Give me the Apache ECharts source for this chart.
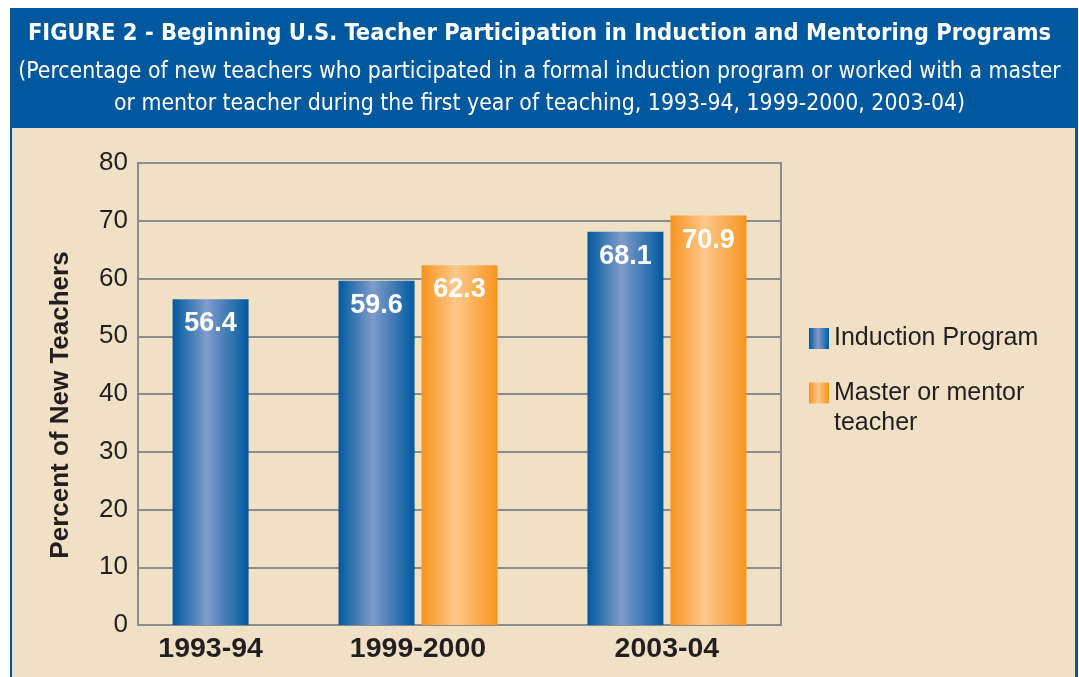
<!DOCTYPE html>
<html>
<head>
<meta charset="utf-8">
<title>Figure 2 - Beginning U.S. Teacher Participation</title>
<script src="https://cdn.jsdelivr.net/npm/echarts@6/dist/echarts.min.js"></script>
<style>
  html, body { margin: 0; background: #fff; }
  #chart { width: 1079px; height: 677px; }
</style>
</head>
<body>
<div id="chart"></div>
<script>
// data
const categories = ['1993-94', '1999-2000', '2003-04'];
const induction = [56.4, 59.6, 68.1];
const mentor = [null, 62.3, 70.9];   // no mentor figure for 1993-94
const seriesNames = ['Induction Program', 'Master or mentor\nteacher'];
const yMin = 0, yMax = 80, yStep = 10;

// layout: the groups are not evenly spaced in the original, so
// the x axis is cut into narrow slots and each year sits in one
const slotCount = 31;
const slotOf = [3, 13, 25];
const BAR_W = 76, BAR_GAP = 7;

const FONT = '"Liberation Sans", Arial, sans-serif';
const NARROW = '"Liberation Sans Narrow", "DejaVu Sans Condensed", "Liberation Sans", sans-serif';
const INK = '#231f20';

const blueFill = new echarts.graphic.LinearGradient(0, 0, 1, 0, [
  { offset: 0, color: '#005a9e' },
  { offset: 0.45, color: '#7f9bcb' },
  { offset: 1, color: '#005a9e' }
]);
const orangeFill = new echarts.graphic.LinearGradient(0, 0, 1, 0, [
  { offset: 0, color: '#f7941d' },
  { offset: 0.45, color: '#fdc88b' },
  { offset: 1, color: '#f7941d' }
]);

const xSlots = new Array(slotCount).fill('');
slotOf.forEach((s, i) => { xSlots[s] = categories[i]; });

// side: -1 left of the slot centre, 0 centred, +1 right
const blueData = [], orangeData = [];
categories.forEach((c, i) => {
  if (induction[i] != null) blueData.push([slotOf[i], induction[i], mentor[i] != null ? -1 : 0]);
  if (mentor[i] != null) orangeData.push([slotOf[i], mentor[i], induction[i] != null ? 1 : 0]);
});

function drawBar(fill) {
  return function (params, api) {
    const v = api.value(1);
    const top = api.coord([api.value(0), v]);
    const base = api.coord([api.value(0), 0]);
    const cx = top[0] + api.value(2) * (BAR_W + BAR_GAP) / 2;
    return {
      type: 'rect',
      shape: { x: cx - BAR_W / 2, y: top[1], width: BAR_W, height: base[1] - top[1] },
      style: { fill: fill },
      textContent: {
        style: { text: v.toFixed(1), fill: '#fff', font: 'bold 27px ' + FONT }
      },
      textConfig: { position: 'insideTop', distance: 11 }
    };
  };
}

const chart = echarts.init(document.getElementById('chart'));
chart.setOption({
  animation: false,
  graphic: [
    { type: 'rect', z: -10, silent: true, shape: { x: 10, y: 8, width: 1068, height: 669 }, style: { fill: '#00599e' } },
    { type: 'rect', z: -9, silent: true, shape: { x: 12, y: 128, width: 1063, height: 549 }, style: { fill: '#f0e0c6' } }
  ],
  title: {
    text: 'FIGURE 2 - Beginning U.S. Teacher Participation in Induction and Mentoring Programs',
    subtext: '(Percentage of new teachers who participated in a formal induction program or worked with a master\nor mentor teacher during the first year of teaching, 1993-94, 1999-2000, 2003-04)',
    left: 'center',
    top: 15,
    itemGap: 8,
    textStyle: { color: '#fff', fontSize: 23.5, fontWeight: 'bold', fontFamily: NARROW, lineHeight: 28 },
    subtextStyle: { color: '#fff', fontSize: 22.8, fontFamily: NARROW, lineHeight: 32, align: 'center' }
  },
  legend: [
    {
      data: [seriesNames[0]],
      left: 809, top: 324, padding: 0,
      selectedMode: false,
      icon: 'rect', itemWidth: 20, itemHeight: 21,
      textStyle: { color: INK, fontSize: 25, fontFamily: FONT, lineHeight: 29 }
    },
    {
      data: [seriesNames[1]],
      left: 809, top: 348, padding: 0,
      selectedMode: false,
      icon: 'rect', itemWidth: 20, itemHeight: 21,
      // blank first line so the square lines up with the first text line
      formatter: name => '\n' + name,
      textStyle: { color: INK, fontSize: 25, fontFamily: FONT, lineHeight: 30 }
    }
  ],
  grid: {
    left: 138, right: 298, top: 163, bottom: 52,
    show: true, borderColor: '#8c8c8c', borderWidth: 2, backgroundColor: 'transparent'
  },
  xAxis: {
    type: 'category',
    data: xSlots,
    axisTick: { show: false },
    axisLine: { show: true, lineStyle: { color: '#8c8c8c', width: 2 } },
    axisLabel: {
      interval: (i, v) => v !== '',
      color: INK, fontSize: 28.5, fontWeight: 'bold', fontFamily: FONT, margin: 10
    }
  },
  yAxis: {
    type: 'value',
    min: yMin, max: yMax, interval: yStep,
    name: '{n|Percent of New Teachers}',
    nameLocation: 'middle',
    nameGap: 64,
    nameTextStyle: {
      rich: { n: { color: INK, fontSize: 26, fontWeight: 'bold', fontFamily: FONT, padding: [0, 22, 0, 0] } }
    },
    axisLine: { show: true, lineStyle: { color: '#8c8c8c', width: 2 } },
    axisTick: { show: false },
    splitLine: { lineStyle: { color: '#8c8c8c', width: 2 } },
    axisLabel: { color: INK, fontSize: 26, fontFamily: FONT, margin: 10 }
  },
  series: [
    {
      name: seriesNames[0], type: 'custom',
      itemStyle: { color: blueFill },
      renderItem: drawBar(blueFill),
      data: blueData
    },
    {
      name: seriesNames[1], type: 'custom',
      itemStyle: { color: orangeFill },
      renderItem: drawBar(orangeFill),
      data: orangeData
    }
  ]
});
</script>
</body>
</html>
